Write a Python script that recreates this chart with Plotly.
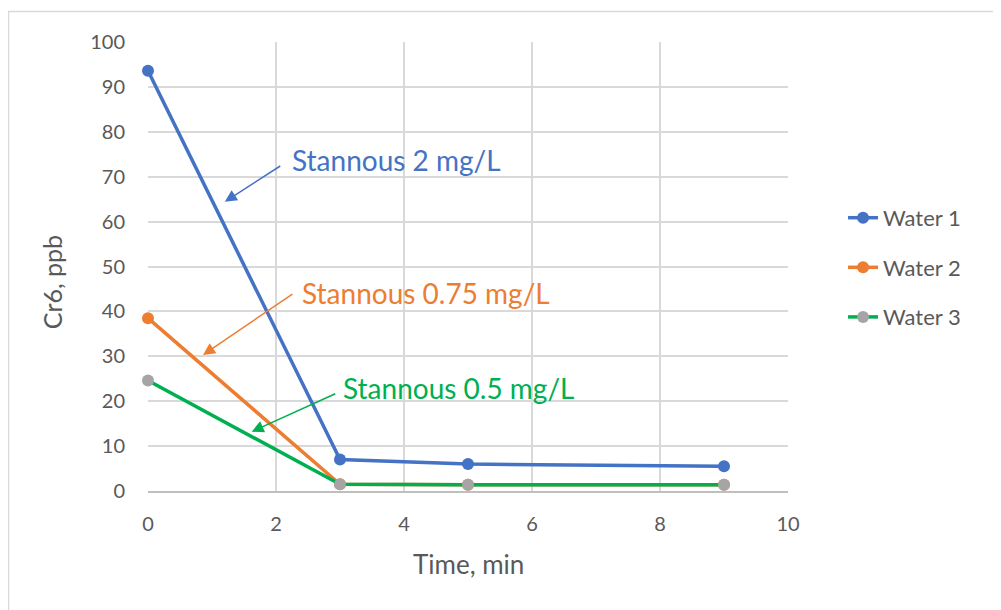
import plotly.graph_objects as go

time_min = [0, 3, 5, 9]
water1 = [93.6, 7.0, 6.0, 5.5]
water2 = [38.5, 1.5, 1.4, 1.4]
water3 = [24.6, 1.5, 1.4, 1.4]
series_names = ["Water 1", "Water 2", "Water 3"]
x_ticks = [0, 2, 4, 6, 8, 10]
y_ticks = [0, 10, 20, 30, 40, 50, 60, 70, 80, 90, 100]

BLUE = "#4472C4"
ORANGE = "#ED7D31"
GREEN = "#00B050"
GRAY = "#A5A5A5"
TXT = "#595959"
FONT = "Lato"

fig = go.Figure()
styles = [
    (water1, BLUE, BLUE),
    (water2, ORANGE, ORANGE),
    (water3, GREEN, GRAY),
]
for i, (vals, lc, mc) in enumerate(styles):
    fig.add_trace(go.Scatter(
        x=time_min, y=vals, name=series_names[i], mode="lines+markers",
        line=dict(color=lc, width=3.5),
        marker=dict(color=mc, size=12),
        legendgroup=f"g{i}", cliponaxis=False,
    ))

annots = [
    ("Stannous 2 mg/L", BLUE, 2.22, 73.7, 2.09, 72.6, 1.20, 64.4),
    ("Stannous 0.75 mg/L", ORANGE, 2.38, 44.0, 2.28, 44.1, 0.86, 30.3),
    ("Stannous 0.5 mg/L", GREEN, 3.01, 22.9, 2.95, 21.8, 1.62, 13.2),
]
for text, col, tx, ty, ax0, ay0, hx, hy in annots:
    fig.add_annotation(x=tx, y=ty, xref="x", yref="y", text=text, showarrow=False,
                       xanchor="left", yanchor="middle",
                       font=dict(family=FONT, size=28, color=col))
    fig.add_annotation(x=hx, y=hy, ax=ax0, ay=ay0, xref="x", yref="y",
                       axref="x", ayref="y", text="", showarrow=True,
                       arrowhead=2, arrowsize=1.6, arrowwidth=1.5, arrowcolor=col)

fig.add_annotation(x=0.5, y=-0.162, xref="paper", yref="paper", text="Time, min",
                   showarrow=False, xanchor="center", yanchor="middle",
                   font=dict(family=FONT, size=26, color=TXT))
fig.add_annotation(x=-0.15, y=0.465, xref="paper", yref="paper", text="Cr6, ppb",
                   showarrow=False, textangle=-90, xanchor="center", yanchor="middle",
                   font=dict(family=FONT, size=25, color=TXT))

fig.add_shape(type="rect", xref="paper", yref="paper",
              x0=-0.218, x1=1.5, y0=-0.6, y1=1.068,
              line=dict(color="#D9D9D9", width=1.5), fillcolor="rgba(0,0,0,0)", layer="below")

fig.update_layout(
    width=1001, height=610,
    margin=dict(l=140, r=221, t=34, b=127),
    paper_bgcolor="white", plot_bgcolor="white",
    font=dict(family=FONT, size=20, color=TXT),
    showlegend=True,
    legend=dict(x=1.086, y=0.655, xanchor="left", yanchor="top",
                font=dict(family=FONT, size=22, color=TXT),
                tracegroupgap=18, traceorder="grouped", bgcolor="rgba(0,0,0,0)"),
    xaxis=dict(range=[0, 10], tickvals=x_ticks, showgrid=True, gridcolor="#D9D9D9",
               gridwidth=1.5, zeroline=False, showline=True, linecolor="#BFBFBF", linewidth=1.5,
               ticks="", ticklabelstandoff=14, tickfont=dict(family=FONT, size=20, color=TXT)),
    yaxis=dict(range=[0, 100], tickvals=y_ticks, showgrid=True, gridcolor="#D9D9D9",
               gridwidth=1.5, zeroline=False, showline=False,
               ticks="", ticklabelstandoff=22, tickfont=dict(family=FONT, size=20, color=TXT)),
)

fig.write_html("out.html")
